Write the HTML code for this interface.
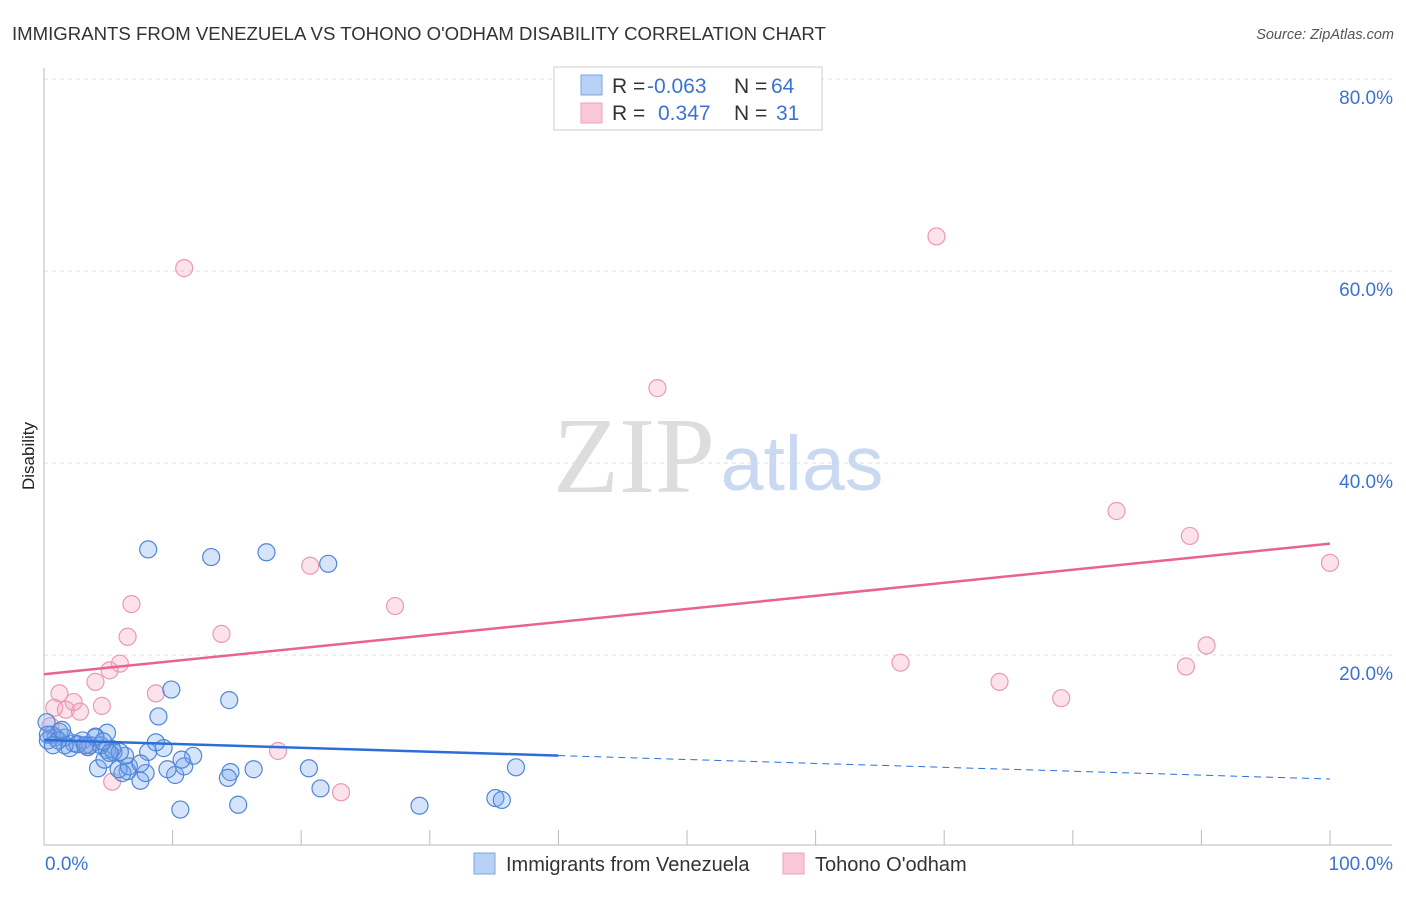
<!DOCTYPE html>
<html><head><meta charset="utf-8"><style>
body{margin:0;background:#fff;font-family:"Liberation Sans",sans-serif}
</style></head><body>
<svg width="1406" height="892" xmlns="http://www.w3.org/2000/svg" id="svg">
<text x="12" y="40" font-size="18.6" fill="#333">IMMIGRANTS FROM VENEZUELA VS TOHONO O'ODHAM DISABILITY CORRELATION CHART</text>
<text x="1394" y="39" font-size="14.5" fill="#555" font-style="italic" text-anchor="end">Source: ZipAtlas.com</text>
<text x="34" y="456" font-size="17" fill="#222" text-anchor="middle" transform="rotate(-90 34 456)">Disability</text>
<g>
<text x="634" y="492" font-size="108" font-family="Liberation Serif,serif" fill="#ddd" text-anchor="middle">ZIP</text>
<text x="802" y="490" font-size="77" fill="#c9d9f2" text-anchor="middle">atlas</text>
</g>
<g id="grid"></g><g id="axes"></g><g id="marks"></g>
<g>
<rect x="554" y="67" width="268" height="63" fill="#fff" stroke="#ccc"/>
<rect x="581" y="75" width="21" height="20" fill="#b8d1f5" stroke="#7aa6e6"/>
<rect x="581" y="103" width="21" height="20" fill="#f9c8d6" stroke="#eea2bb"/>
<text x="612" y="93" font-size="21" fill="#333">R = <tspan fill="#3b73d4" x="647">-0.063</tspan></text>
<text x="734" y="93" font-size="21" fill="#333">N = <tspan fill="#3b73d4" x="771">64</tspan></text>
<text x="612" y="120" font-size="21" fill="#333">R = <tspan fill="#3b73d4" x="658">0.347</tspan></text>
<text x="734" y="120" font-size="21" fill="#333">N = <tspan fill="#3b73d4" x="776">31</tspan></text>
</g>
<g>
<rect x="474" y="853" width="21" height="21" fill="#b8d1f5" stroke="#7aa6e6"/>
<text x="506" y="871" font-size="20" fill="#333">Immigrants from Venezuela</text>
<rect x="783" y="853" width="21" height="21" fill="#f9c8d6" stroke="#eea2bb"/>
<text x="815" y="871" font-size="20" fill="#333">Tohono O'odham</text>
</g>
</svg>
<script>
const blueX=[8.1,13.0,17.3,22.1,9.9,14.4,8.9,36.7,29.2,35.1,35.6,10.6,15.1,21.5,20.6,16.3,14.5,14.3,10.2,9.6,10.9,11.6,10.7,9.3,8.1,8.7,7.5,7.9,6.5,6.1,5.8,6.6,7.5,6.3,5.4,4.9,4.2,4.7,5.3,4.9,4.0,3.6,3.0,2.3,2.0,1.6,1.2,0.9,0.6,0.3,0.2,0.3,4.4,3.4,2.6,1.6,1.1,4.0,5.9,5.1,0.7,1.4,3.2,4.6];
const blueY=[31.0,30.2,30.7,29.5,16.4,15.3,13.6,8.3,4.3,5.1,4.9,3.9,4.4,6.1,8.2,8.1,7.8,7.2,7.5,8.1,8.4,9.5,9.1,10.3,9.9,10.9,6.9,7.7,7.9,7.7,8.1,8.4,8.7,9.5,9.9,10.1,8.2,9.1,10.2,11.9,11.4,10.6,11.1,10.8,10.3,11.4,12.0,11.4,11.7,11.1,13.0,11.7,10.6,10.4,10.7,10.6,11.1,11.5,9.9,9.8,10.6,12.2,10.6,11.0];
const pinkX=[10.9,69.4,47.7,83.4,89.1,100,20.7,27.3,6.8,13.8,6.5,5.9,5.1,4.0,66.6,74.3,79.1,88.8,90.4,8.7,1.2,2.3,4.5,0.8,1.7,2.8,18.2,23.1,5.3,0.5,3.4];
const pinkY=[60.3,63.6,47.8,35.0,32.4,29.6,29.3,25.1,25.3,22.2,21.9,19.1,18.4,17.2,19.2,17.2,15.5,18.8,21.0,16.0,16.0,15.1,14.7,14.5,14.3,14.1,10.0,5.7,6.8,12.6,10.6];
const yTicks=[20,40,60,80];
const yTickLabels=["20.0%","40.0%","60.0%","80.0%"];
const blueTrend=[11.15,7.08];const pinkTrend=[18.0,31.6];
const NS="http://www.w3.org/2000/svg";
const sx=v=>44+v*12.86, sy=v=>847-v*9.6;
function mk(t,a,p){const e=document.createElementNS(NS,t);for(const k in a)e.setAttribute(k,a[k]);p.appendChild(e);return e;}
const grid=document.getElementById('grid'),axes=document.getElementById('axes'),marks=document.getElementById('marks');
yTicks.forEach((v,i)=>{
 const l=mk('line',{x1:44,x2:1392,y1:sy(v),y2:sy(v),stroke:'#ddd','stroke-dasharray':'4 4'},grid);
 
 
 const t=mk('text',{x:1393,y:sy(v)+25,'font-size':19,fill:'#3b73d4','text-anchor':'end'},grid);
 t.textContent=yTickLabels[i];
 
 
});
mk('line',{x1:44,x2:44,y1:68,y2:845,stroke:'#bbb'},axes);
mk('line',{x1:44,x2:1392,y1:845,y2:845,stroke:'#bbb'},axes);
for(let i=1;i<=10;i++){const t=mk('line',{x1:sx(i*10),x2:sx(i*10),y1:830,y2:845,stroke:'#bbb'},axes);
 
 }
const x0=mk('text',{x:45,y:870,'font-size':19,fill:'#3b73d4'},axes);x0.textContent='0.0%';


const x1=mk('text',{x:1393,y:870,'font-size':19,fill:'#3b73d4','text-anchor':'end'},axes);x1.textContent='100.0%';


pinkX.forEach((v,i)=>{const c=mk('circle',{cx:sx(v),cy:sy(pinkY[i]),r:8.5,fill:'rgba(244,160,188,0.3)',stroke:'#e99ab4','stroke-width':1.2},marks);
 
 });
blueX.forEach((v,i)=>{const c=mk('circle',{cx:sx(v),cy:sy(blueY[i]),r:8.5,fill:'rgba(120,165,235,0.3)',stroke:'#4f86d8','stroke-width':1.2},marks);
 
 });
const by=x=>blueTrend[0]+(blueTrend[1]-blueTrend[0])*x/100;
const b1=mk('line',{x1:sx(0),y1:sy(by(0)),x2:sx(40),y2:sy(by(40)),stroke:'#2b6fd6','stroke-width':2.5},marks);


const b2=mk('line',{x1:sx(40),y1:sy(by(40)),x2:sx(100),y2:sy(by(100)),stroke:'#2b6fd6','stroke-width':1,'stroke-dasharray':'7 5'},marks);


const p1=mk('line',{x1:sx(0),y1:sy(pinkTrend[0]),x2:sx(100),y2:sy(pinkTrend[1]),stroke:'#e8648f','stroke-width':2.5},marks);


</script>
</body></html>
